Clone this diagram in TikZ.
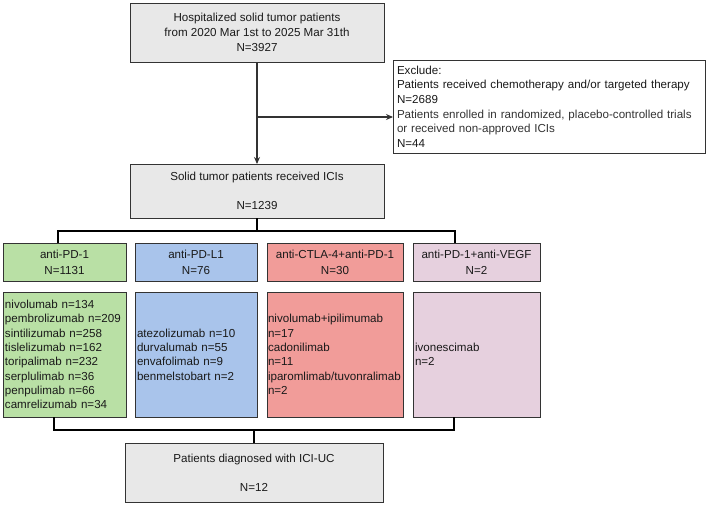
\documentclass[tikz,border=0pt]{standalone}
\usepackage{fontspec}
\setmainfont{Liberation Sans}
\usetikzlibrary{arrows.meta}
\definecolor{graybox}{HTML}{E8E8E8}
\definecolor{greenbox}{HTML}{B9E0A5}
\definecolor{bluebox}{HTML}{A9C4EB}
\definecolor{redbox}{HTML}{F19C99}
\definecolor{pinkbox}{HTML}{E6D0DE}
\definecolor{edge}{HTML}{333333}
\definecolor{txt}{HTML}{1A1A1A}
\tikzset{
  x=1pt, y=-1pt,
  box/.style={draw=edge, line width=0.9pt, inner sep=0pt, outer sep=0pt, anchor=north west,
    text=txt, font=\fontsize{11.6}{14.3}\selectfont},
  ctext/.style={align=center},
  ltext/.style={align=left, inner xsep=2pt},
  bracket/.style={draw=black, line width=1.8pt},
  arr/.style={draw=edge, line width=1.1pt, -{Stealth[length=7pt,width=6pt]}}
}
\begin{document}
\begin{tikzpicture}
\useasboundingbox (0,0) rectangle (708,504);
% top box
\node[box, ctext, fill=graybox, minimum width=254pt, minimum height=59pt, font=\fontsize{11.6}{15}\selectfont] (top) at (130,3)
  {Hospitalized solid tumor patients\\from 2020 Mar 1st to 2025 Mar 31th\\N=3927};
% exclude box
\node[box, ltext, fill=white, inner xsep=4pt, text width=304pt, minimum width=312pt, minimum height=93pt, font=\fontsize{11.6}{14.6}\selectfont] (excl) at (393,60)
  {Exclude:\\Patients received chemotherapy and/or targeted therapy\\N=2689\\{\color{edge}Patients enrolled in randomized, placebo-controlled trials}\\{\color{edge}or received non-approved ICIs}\\N=44};
% solid box
\node[box, ctext, fill=graybox, minimum width=254pt, minimum height=54pt] (solid) at (130,164)
  {Solid tumor patients received ICIs\\[14.3pt]N=1239};
% category headers
\node[box, ctext, fill=greenbox, minimum width=123pt, minimum height=38pt] (g1) at (3,243) {anti-PD-1\\[2pt]N=1131};
\node[box, ctext, fill=bluebox, minimum width=122pt, minimum height=38pt] (b1) at (135,243) {anti-PD-L1\\[2pt]N=76};
\node[box, ctext, fill=redbox, minimum width=136pt, minimum height=38pt] (r1) at (267,243) {anti-CTLA-4+anti-PD-1\\[2pt]N=30};
\node[box, ctext, fill=pinkbox, minimum width=127pt, minimum height=38pt] (p1) at (413,243) {anti-PD-1+anti-VEGF\\[2pt]N=2};
% drug lists
\node[box, ltext, fill=greenbox, text width=119pt, minimum width=123pt, minimum height=125pt] (g2) at (3,292)
  {nivolumab n=134\\pembrolizumab n=209\\sintilizumab n=258\\tislelizumab n=162\\toripalimab n=232\\serplulimab n=36\\penpulimab n=66\\camrelizumab n=34};
\node[box, ltext, fill=bluebox, text width=118pt, minimum width=122pt, minimum height=125pt] (b2) at (135,292)
  {atezolizumab n=10\\durvalumab n=55\\envafolimab n=9\\benmelstobart n=2};
\node[box, ltext, fill=redbox, text width=134pt, inner xsep=1pt, minimum width=136pt, minimum height=125pt] (r2) at (267,292)
  {nivolumab+ipilimumab\\n=17\\cadonilimab\\n=11\\iparomlimab/tuvonralimab\\n=2};
\node[box, ltext, fill=pinkbox, text width=123pt, minimum width=127pt, minimum height=125pt] (p2) at (413,292)
  {ivonescimab\\n=2};
% final box
\node[box, ctext, fill=graybox, minimum width=258pt, minimum height=59pt] (final) at (125,443)
  {Patients diagnosed with ICI-UC\\[14.3pt]N=12};
% connectors
\draw[arr] (top) -- (solid);
\coordinate (ex) at (257,117);
\draw[arr] (ex) -- (ex -| excl.west);
\coordinate (bt) at (257,231);
\draw[bracket] (solid.south) -- (bt);
\draw[bracket] ([xshift=-6.5pt]g1.north) |- (bt) -| ([xshift=-21.5pt]p1.north);
\coordinate (bb) at (254,430);
\draw[bracket] ([xshift=-10.5pt]g2.south) |- (bb) -| ([xshift=-22.5pt]p2.south);
\draw[bracket] (bb) -- (final.north);
\end{tikzpicture}
\end{document}
